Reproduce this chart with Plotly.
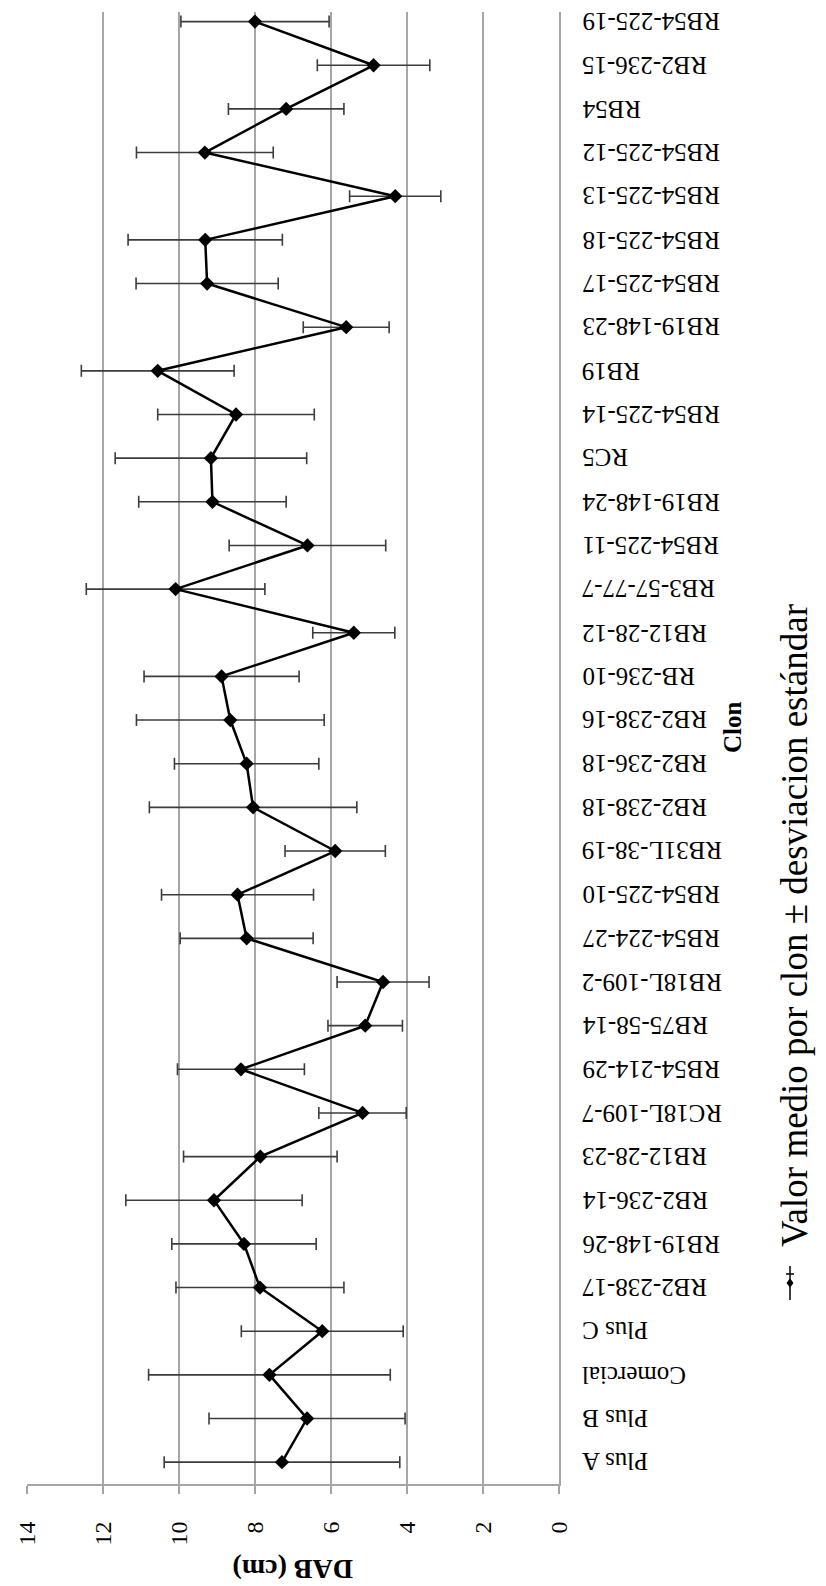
import plotly.graph_objects as go

clones = ["Plus A", "Plus B", "Comercial", "Plus C", "RB2-238-17", "RB19-148-26",
          "RB2-236-14", "RB12-28-23", "RC18L-109-7", "RB54-214-29", "RB75-58-14",
          "RB18L-109-2", "RB54-224-27", "RB54-225-10", "RB31L-38-19", "RB2-238-18",
          "RB2-236-18", "RB2-238-16", "RB-236-10", "RB12-28-12", "RB3-57-77-7",
          "RB54-225-11", "RB19-148-24", "RC5", "RB54-225-14", "RB19", "RB19-148-23",
          "RB54-225-17", "RB54-225-18", "RB54-225-13", "RB54-225-12", "RB54",
          "RB2-236-15", "RB54-225-19"]
dab_mean = [7.29, 6.63, 7.62, 6.23, 7.87, 8.29, 9.08, 7.86, 5.17, 8.37, 5.10,
            4.63, 8.22, 8.46, 5.89, 8.05, 8.22, 8.65, 8.88, 5.40, 10.09,
            6.62, 9.12, 9.16, 8.50, 10.56, 5.60, 9.26, 9.31, 4.31, 9.32, 7.18,
            4.88, 8.00]
dab_sd = [3.10, 2.58, 3.18, 2.13, 2.21, 1.90, 2.32, 2.02, 1.15, 1.67, 0.98,
          1.21, 1.75, 2.00, 1.32, 2.73, 1.90, 2.47, 2.04, 1.08, 2.35,
          2.06, 1.94, 2.52, 2.06, 2.01, 1.13, 1.87, 2.03, 1.20, 1.80, 1.52,
          1.48, 1.95]
value_ticks = [0, 2, 4, 6, 8, 10, 12, 14]

W, H = 826, 1586
L, R, T, B = 19, 551, 4, 1476
FONT = "Liberation Serif, Tinos, Times New Roman, Times, serif"


def px(xpix):
    return (xpix - L) / (R - L)


def py(ypix):
    return (B - ypix) / (B - T)


idx = list(range(len(clones)))

fig = go.Figure()
fig.add_trace(go.Scatter(
    x=dab_mean, y=idx, mode="lines+markers",
    line=dict(color="black", width=2.5),
    marker=dict(symbol="diamond", size=11, color="black"),
    error_x=dict(type="data", array=dab_sd, visible=True,
                 color="#3c3c3c", thickness=1.6, width=6),
    showlegend=False, cliponaxis=False,
))

annotations = []
for i, name in enumerate(clones):
    annotations.append(dict(
        x=px(572), xref="paper", y=i, yref="y", text=name, showarrow=False,
        xanchor="left", yanchor="middle", textangle=180,
        font=dict(family=FONT, size=25, color="black")))

annotations.append(dict(
    x=0.5, xref="paper", y=py(1562), yref="paper", text="<b>DAB (cm)</b>",
    showarrow=False, xanchor="center", yanchor="middle", textangle=180,
    font=dict(family=FONT, size=28, color="black")))
annotations.append(dict(
    x=px(724), xref="paper", y=py(719), yref="paper", text="<b>Clon</b>",
    showarrow=False, xanchor="center", yanchor="middle", textangle=-90,
    font=dict(family=FONT, size=25, color="black")))
annotations.append(dict(
    x=px(786), xref="paper", y=py(918), yref="paper",
    text="Valor medio por clon ± desviacion estándar",
    showarrow=False, xanchor="center", yanchor="middle", textangle=-90,
    font=dict(family=FONT, size=37, color="black")))

shapes = [
    dict(type="line", xref="paper", yref="paper", x0=px(782), x1=px(782),
         y0=py(1258), y1=py(1292), line=dict(color="black", width=1.5)),
    dict(type="line", xref="paper", yref="paper", x0=px(778), x1=px(786),
         y0=py(1266), y1=py(1266), line=dict(color="black", width=1.5)),
    dict(type="path", xref="paper", yref="paper",
         path=(f"M {px(782)},{py(1271)} L {px(785)},{py(1275)} "
               f"L {px(782)},{py(1279)} L {px(779)},{py(1275)} Z"),
         fillcolor="black", line=dict(color="black", width=1)),
]

fig.update_layout(
    width=W, height=H, autosize=False,
    margin=dict(l=L, r=W - R, t=T, b=H - B, pad=0),
    paper_bgcolor="white", plot_bgcolor="white",
    font=dict(family=FONT, size=24, color="black"),
    xaxis=dict(range=[14, 0], tickvals=value_ticks, ticktext=[str(v) for v in value_ticks],
               tickangle=-90, ticks="outside", ticklen=8, tickcolor="#a6a6a6",
               tickwidth=1.5, showgrid=True, gridcolor="#a6a6a6", gridwidth=1.5,
               showline=True, linecolor="#a6a6a6", linewidth=2, zeroline=False,
               ticklabelstandoff=18, tickfont=dict(family=FONT, size=24, color="black")),
    yaxis=dict(range=[-0.5, 33.22], showticklabels=False, showgrid=False,
               zeroline=False, showline=True, linecolor="#a6a6a6", linewidth=2,
               side="right", ticks=""),
    annotations=annotations,
    shapes=shapes,
)

fig.write_html("out.html")
